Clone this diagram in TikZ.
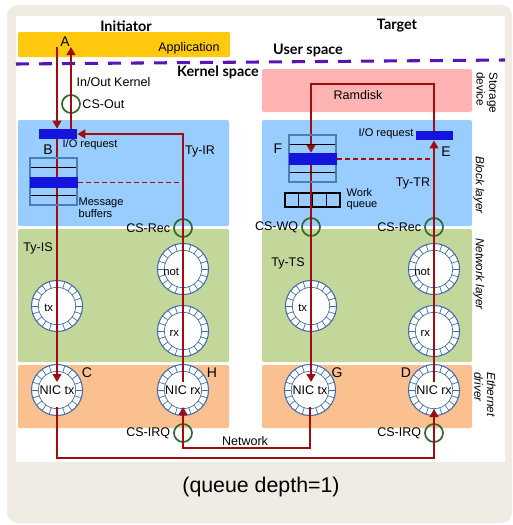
\documentclass[tikz,border=0pt]{standalone}
\usepackage{fontspec}
\setmainfont{Liberation Sans}
\newfontfamily\titlefont{Lato}
\usetikzlibrary{shapes, arrows.meta, calc, positioning}

\definecolor{panelbeige}{HTML}{F0EBE3}
\definecolor{appyellow}{HTML}{FFC90E}
\definecolor{spacepurple}{HTML}{5A14B4}
\definecolor{ramdiskpink}{HTML}{FFB3B3}
\definecolor{blocklayer}{HTML}{99CCFF}
\definecolor{netlayer}{HTML}{C4D79B}
\definecolor{ethlayer}{HTML}{FAC090}
\definecolor{flowred}{HTML}{A00D10}
\definecolor{csgreen}{HTML}{2E6A2E}
\definecolor{barblue}{HTML}{1414DC}
\definecolor{ringblue}{HTML}{3D6DB0}
\definecolor{stackblue}{HTML}{4A7EBB}

\pgfdeclarelayer{back}
\pgfdeclarelayer{front}
\pgfsetlayers{back,main,front}

\tikzset{
  lbl/.style={font=\fontsize{9.4}{11}\selectfont, inner sep=1pt},
  small/.style={font=\fontsize{8.3}{8.7}\selectfont, inner sep=1pt, align=left},
  letter/.style={font=\fontsize{10.5}{12}\selectfont, inner sep=0pt},
  title/.style={font=\titlefont\bfseries\fontsize{10.8}{12}\selectfont, inner sep=0pt},
  side/.style={font=\itshape\fontsize{8.8}{9.6}\selectfont, rotate=-90, align=left, inner sep=0pt},
  qring/.style={circle, draw=ringblue, line width=0.8pt, fill=white, minimum size=38.3pt,
    inner sep=0pt, font=\fontsize{9.4}{11}\selectfont,
    path picture={
      \draw[ringblue, line width=0.5pt] (path picture bounding box.center) circle (14pt);
      \foreach \a in {0,18,...,342}
        \draw[ringblue, line width=0.5pt] (path picture bounding box.center) ++(\a:14pt) -- ++(\a:7pt);
    }},
  ringlbl/.style={font=\fontsize{8.5}{9}\selectfont, inner sep=0.5pt, anchor=east},
  cs/.style={circle, draw=csgreen, line width=1.3pt, minimum size=13.5pt, inner sep=0pt},
  iobar/.style={fill=barblue, inner sep=0pt},
  stackbox/.style={draw=stackblue, line width=1.1pt, minimum width=35.25pt, minimum height=35.25pt,
    inner sep=0pt,
    path picture={
      \draw[black, line width=0.5pt] ([yshift=10.5pt]path picture bounding box.west) -- ([yshift=10.5pt]path picture bounding box.east);
      \draw[black, line width=0.5pt] ([yshift=-10.5pt]path picture bounding box.west) -- ([yshift=-10.5pt]path picture bounding box.east);
    }},
  wqbox/.style={draw=black, line width=1pt, minimum width=41.25pt, minimum height=10.5pt, inner sep=0pt,
    path picture={
      \foreach \d in {-10.3,0,10.3}
        \draw[black, line width=0.8pt] ([xshift=\d pt]path picture bounding box.north) -- ([xshift=\d pt]path picture bounding box.south);
    }},
  flow/.style={draw=flowred, line width=1.5pt},
  tip/.style={-{Triangle[length=6pt,width=6.5pt]}},
  dashflow/.style={draw=flowred, line width=1.3pt, dash pattern=on 3.5pt off 2.5pt}
}

\begin{document}
\begin{tikzpicture}[x=0.75pt,y=-0.75pt]
\useasboundingbox (0,0) rectangle (513,525);

% panels and layers
\begin{pgfonlayer}{back}
  \fill[panelbeige, rounded corners=8pt] (7,5) rectangle (512,523);
  \fill[white] (16,16) rectangle (505,462);
  \fill[appyellow, rounded corners=1pt] (18,32) rectangle (230,57);
  \fill[ramdiskpink, rounded corners=1.5pt] (262,69) rectangle (472,112);
  \foreach \xa/\xb in {18/229, 262/472} {
    \fill[blocklayer, rounded corners=1.5pt] (\xa,120) rectangle (\xb,226);
    \fill[netlayer, rounded corners=1.5pt] (\xa,229) rectangle (\xb,362);
    \fill[ethlayer, rounded corners=1.5pt] (\xa,365) rectangle (\xb,428);
  }
  \draw[spacepurple, line width=2.3pt, dash pattern=on 9.75pt off 7.5pt] (16,64) -- (505,60);
\end{pgfonlayer}

% titles
\node[title] (initiator) at (126,26) {Initiator};
\node[title] (target) at (397,26) {Target};
\node[title] (userspace) at (308,50) {User space};
\node[title] (kernelspace) at (218,72) {Kernel space};
\node[lbl] (application) at (189,48) {Application};
\node[letter] (A) at (65,42) {A};
\node[lbl] (ramdisk) at (358,95) {Ramdisk};

\node[side, font=\fontsize{8.8}{9.6}\selectfont, anchor=west] (storage) at (487,72) {Storage\\device};
\node[side] (blocklbl) at (479,185) {Block layer};
\node[side] (netlbl) at (479,274) {Network layer};
\node[side, anchor=west] (ethlbl) at (485,372) {Ethernet\\driver};

% bars and buffers
\begin{pgfonlayer}{front}
  \node[iobar, minimum width=28.5pt, minimum height=7.5pt] (req_i) at (58,134) {};
  \node[stackbox] (buf_i) at (53.5,181.5) {};
  \node[iobar, minimum width=36pt, minimum height=8.5pt] (bufbar_i) at (54,182.5) {};
  \node[iobar, minimum width=27.75pt, minimum height=7pt] (req_t) at (434.5,135.5) {};
  \node[stackbox] (buf_t) at (312.5,158.5) {};
  \node[iobar, minimum width=36pt, minimum height=9pt] (bufbar_t) at (313,159) {};
\end{pgfonlayer}

% initiator
\coordinate (a_down) at (57,47);
\coordinate (a_up) at (71,47);
\node[lbl, anchor=west] (inout) at (75,82) {In/Out Kernel};
\node[cs] (csout) at (71,104) {};
\node[lbl, right=0pt of csout] (csout_txt) {CS-Out};
\node[small, anchor=west] (req_i_txt) at (61,145) {I/O request};
\node[letter] (B) at (48,150) {B};
\node[small, anchor=west] (buf_i_txt) at (77,207.5) {Message\\buffers};
\node[lbl] (tyir) at (200,151) {Ty-IR};
\node[cs] (csrec_i) at (183,228) {};
\node[lbl, left=1pt of csrec_i] (csrec_i_txt) {CS-Rec};
\node[lbl] (tyis) at (38,248) {Ty-IS};

\node[qring] (tx_i) at (57,306) {};
\node[qring] (not_i) at (183,269) {};
\node[qring] (rx_i) at (183,331) {};
\node[qring] (nic_tx_i) at (57,390) {NIC tx};
\node[qring] (nic_rx_i) at (183,390) {NIC rx};
\node[ringlbl] (tx_i_txt) at ($(tx_i)+(-3,2)$) {tx};
\node[ringlbl] (not_i_txt) at ($(not_i)+(-3,3)$) {not};
\node[ringlbl] (rx_i_txt) at ($(rx_i)+(-3,2)$) {rx};
\node[letter] (C) at (87,373) {C};
\node[letter] (H) at (212,373) {H};
\node[cs] (csirq_i) at (183,433) {};
\node[lbl, left=1pt of csirq_i] (csirq_i_txt) {CS-IRQ};

% target
\coordinate (loop_top) at (0,84);
\node[letter] (F) at (278,149) {F};
\node[small, anchor=east] (req_t_txt) at (415,134) {I/O request};
\node[letter] (E) at (446,152) {E};
\node[lbl] (tytr) at (413,183) {Ty-TR};
\node[wqbox] (wq) at (312.5,200) {};
\node[small, anchor=west] (wq_txt) at (345,199) {Work\\queue};
\node[cs] (cswq) at (311,227) {};
\node[lbl, left=1pt of cswq] (cswq_txt) {CS-WQ};
\node[cs] (csrec_t) at (434,227) {};
\node[lbl, left=1pt of csrec_t] (csrec_t_txt) {CS-Rec};
\node[lbl] (tyts) at (288,263) {Ty-TS};

\node[qring] (tx_t) at (311,306) {};
\node[qring] (not_t) at (434,269) {};
\node[qring] (rx_t) at (434,331) {};
\node[qring] (nic_tx_t) at (310,390) {NIC tx};
\node[qring] (nic_rx_t) at (434,390) {NIC rx};
\node[ringlbl] (tx_t_txt) at ($(tx_t)+(-3,2)$) {tx};
\node[ringlbl] (not_t_txt) at ($(not_t)+(-3,3)$) {not};
\node[ringlbl] (rx_t_txt) at ($(rx_t)+(-3,2)$) {rx};
\node[letter] (G) at (337,373) {G};
\node[letter] (D) at (406,373) {D};
\node[cs] (csirq_t) at (434,433) {};
\node[lbl, left=1pt of csirq_t] (csirq_t_txt) {CS-IRQ};

% flows
\coordinate (net_high) at (0,448);
\coordinate (net_low) at (0,458);
\draw[flow, tip] (a_down) -- (a_down |- req_i.north);
\draw[flow, tip] (a_up |- req_i.north) -- (a_up);
\draw[flow, tip] (req_i.south -| a_down) -- ($(nic_tx_i)+(0,-8)$);
\draw[flow, tip] ($(nic_rx_i)+(0,-8)$) -- (nic_rx_i |- req_i) -- (req_i.east);
\draw[dashflow] (bufbar_i.east) -- (bufbar_i.east -| nic_rx_i);

\draw[flow, tip] ($(nic_tx_i)+(0,17)$) -- (nic_tx_i |- net_low) -- (nic_rx_t |- net_low) -- ($(nic_rx_t)+(0,19)$);
\draw[flow, tip] ($(nic_tx_t)+(0,17)$) -- (nic_tx_t |- net_high) -- (nic_rx_i |- net_high) -- ($(nic_rx_i)+(0,17)$);
\node[lbl] (network) at (245,441) {Network};

\draw[flow, tip] ($(nic_rx_t)+(0,-8)$) -- (nic_rx_t |- req_t.south);
\draw[flow, tip] (nic_rx_t |- req_t.north) -- (nic_rx_t |- loop_top) -- (cswq |- loop_top) -- (cswq |- bufbar_t.north);
\draw[flow, tip] (cswq |- bufbar_t.south) -- ($(nic_tx_t)+(1,-8)$);
\draw[dashflow] (bufbar_t.east) -- (bufbar_t.east -| nic_rx_t);

\node[font=\fontsize{16}{19}\selectfont] (caption) at (261,487) {(queue depth=1)};
\end{tikzpicture}
\end{document}
